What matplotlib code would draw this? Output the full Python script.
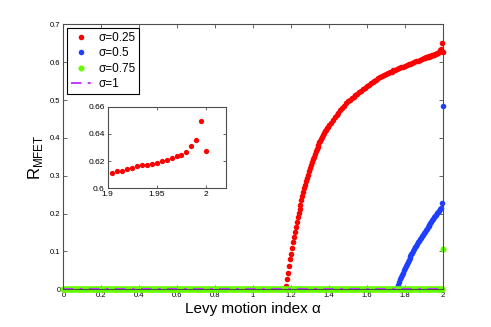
import numpy as np
import matplotlib
matplotlib.use("Agg")
import matplotlib.pyplot as plt

plt.rcParams['font.family'] = ['Liberation Sans', 'DejaVu Sans']
plt.rcParams['mathtext.fontset'] = 'custom'
plt.rcParams['mathtext.rm'] = 'Liberation Sans'

# sigma = 0.25 (red): steep start, then smooth rise
alpha_red_steep = [1.175, 1.18, 1.185, 1.19, 1.195, 1.20, 1.205, 1.21, 1.215, 1.22,
                   1.225, 1.23, 1.235, 1.24, 1.245, 1.25, 1.255, 1.26, 1.265, 1.27,
                   1.275, 1.28, 1.285, 1.29, 1.295, 1.30, 1.305, 1.31, 1.315, 1.32,
                   1.325, 1.33]
r_red_steep = [0.008, 0.028, 0.044, 0.061, 0.079, 0.093, 0.108, 0.126, 0.139, 0.152,
               0.165, 0.178, 0.191, 0.202, 0.212, 0.222, 0.235, 0.246, 0.258, 0.267,
               0.276, 0.285, 0.294, 0.303, 0.312, 0.320, 0.328, 0.336, 0.343, 0.350,
               0.357, 0.364]
alpha_red_mid = [1.335, 1.34, 1.345, 1.35, 1.355, 1.36, 1.365, 1.37, 1.375, 1.38,
                 1.385, 1.39, 1.395, 1.40, 1.41, 1.42, 1.43,
                 1.44, 1.45, 1.46, 1.47, 1.48, 1.49, 1.50, 1.51, 1.52, 1.53,
                 1.54, 1.55, 1.56, 1.57, 1.58, 1.59, 1.60, 1.61, 1.62, 1.63,
                 1.64, 1.65, 1.66, 1.67, 1.68, 1.69, 1.70, 1.71, 1.72, 1.73,
                 1.74, 1.75, 1.76, 1.77, 1.78, 1.79, 1.80, 1.81, 1.82, 1.83,
                 1.84, 1.85, 1.86, 1.87, 1.88, 1.89, 1.90]
r_red_mid = [0.370, 0.376, 0.382, 0.388, 0.393, 0.398, 0.403, 0.408, 0.412, 0.417,
             0.421, 0.425, 0.429, 0.433, 0.440, 0.447, 0.454,
             0.460, 0.467, 0.473, 0.479, 0.485, 0.491, 0.497, 0.501, 0.505, 0.509,
             0.513, 0.517, 0.521, 0.525, 0.529, 0.532, 0.536, 0.540, 0.544, 0.548,
             0.551, 0.554, 0.557, 0.560, 0.563, 0.566, 0.569, 0.571, 0.573, 0.575,
             0.578, 0.580, 0.582, 0.584, 0.586, 0.588, 0.590, 0.592, 0.594, 0.596,
             0.598, 0.600, 0.602, 0.604, 0.606, 0.608, 0.610]
# tail, also shown in the inset
alpha_red_tail = [1.905, 1.91, 1.915, 1.92, 1.925, 1.93, 1.935, 1.94, 1.945, 1.95,
                  1.955, 1.96, 1.965, 1.97, 1.975, 1.98, 1.985, 1.99, 1.995, 2.0]
r_red_tail = [0.6116, 0.6126, 0.6128, 0.6141, 0.6148, 0.6163, 0.6170, 0.6175, 0.6178, 0.6188,
              0.6198, 0.6210, 0.6225, 0.6237, 0.6247, 0.6269, 0.6309, 0.6358, 0.6494, 0.6274]

# sigma = 0.5 (blue)
alpha_blue = [1.76, 1.765, 1.77, 1.775, 1.78, 1.785, 1.79, 1.795, 1.80, 1.805,
              1.81, 1.815, 1.82, 1.825, 1.83, 1.835, 1.84, 1.845, 1.85, 1.855,
              1.86, 1.865, 1.87, 1.875, 1.88, 1.885, 1.89, 1.895, 1.90, 1.905,
              1.91, 1.915, 1.92, 1.925, 1.93, 1.935, 1.94, 1.945, 1.95, 1.955,
              1.96, 1.965, 1.97, 1.975, 1.98, 1.985, 1.99, 1.995, 2.0]
r_blue = [0.003, 0.012, 0.020, 0.027, 0.033, 0.039, 0.044, 0.050, 0.055, 0.061,
          0.066, 0.072, 0.077, 0.082, 0.087, 0.092, 0.097, 0.102, 0.106, 0.111,
          0.115, 0.120, 0.124, 0.128, 0.132, 0.136, 0.140, 0.144, 0.148, 0.152,
          0.156, 0.160, 0.164, 0.167, 0.171, 0.175, 0.179, 0.182, 0.186, 0.190,
          0.194, 0.197, 0.201, 0.204, 0.208, 0.212, 0.216, 0.228, 0.483]

# sigma = 0.75 (green): zero everywhere except the end point
alpha_green_end = [2.0]
r_green_end = [0.106]

# sigma = 1: zero line
alpha_line = [0.0, 2.0]
r_line = [0.0, 0.0]

alpha_grid = np.arange(0.0, 2.0, 0.005)

red = '#ff0000'
blue = '#1f3fff'
green = '#66ff00'
purple = '#c040ff'

fig = plt.figure(figsize=(4.91, 3.27), dpi=100)
ax = fig.add_axes([0.129, 0.1153, 0.7727, 0.8104])

alpha_red = alpha_red_steep + alpha_red_mid + alpha_red_tail
r_red = r_red_steep + r_red_mid + r_red_tail

ax.plot(alpha_red, r_red, 'o', color=red, ms=4.0, mec='none', label='σ=0.25', clip_on=False)
ax.plot(alpha_blue, r_blue, 'o', color=blue, ms=4.0, mec='none', label='σ=0.5', clip_on=False)
ax.plot(list(alpha_grid) + alpha_green_end, list(np.zeros_like(alpha_grid)) + r_green_end,
        'o', color=green, ms=4.4, mec='none', label='σ=0.75', clip_on=False)
ax.plot(alpha_line, r_line, '-.', color=purple, lw=1.5, dashes=(5, 3, 1.5, 3), label='σ=1',
        clip_on=False)

ax.set_xlim(0, 2)
ax.set_ylim(0, 0.7)
ax.set_xticks([0, 0.2, 0.4, 0.6, 0.8, 1, 1.2, 1.4, 1.6, 1.8, 2])
ax.set_xticklabels(['0', '0.2', '0.4', '0.6', '0.8', '1', '1.2', '1.4', '1.6', '1.8', '2'])
ax.set_yticks([0, 0.1, 0.2, 0.3, 0.4, 0.5, 0.6, 0.7])
ax.set_yticklabels(['0', '0.1', '0.2', '0.3', '0.4', '0.5', '0.6', '0.7'])
ax.tick_params(direction='in', top=True, right=True, length=3, width=0.6,
               labelsize=5.5, pad=2, color='0.3')
for s in ax.spines.values():
    s.set_color('0.3')
    s.set_linewidth(0.8)

ax.set_xlabel('Levy motion index α', fontsize=11, labelpad=2)
ax.set_ylabel(r'R$_{\mathregular{MFET}}$', fontsize=12, labelpad=4)

leg = ax.legend(loc='upper left', bbox_to_anchor=(0.0105, 0.985), borderaxespad=0,
                fontsize=8.5, labelspacing=0.3, handlelength=1.8, handletextpad=0.5,
                borderpad=0.3, fancybox=False, framealpha=1, edgecolor='black')
leg.get_frame().set_linewidth(0.8)

# inset
axin = fig.add_axes([0.219, 0.424, 0.241, 0.2496])
axin.plot(alpha_red_tail, r_red_tail, 'o', color=red, ms=3.8, mec='none')
axin.set_xlim(1.9, 2.02)
axin.set_ylim(0.6, 0.66)
axin.set_xticks([1.9, 1.95, 2])
axin.set_xticklabels(['1.9', '1.95', '2'])
axin.set_yticks([0.6, 0.62, 0.64, 0.66])
axin.set_yticklabels(['0.6', '0.62', '0.64', '0.66'])
axin.tick_params(direction='in', top=True, right=True, length=2.5, width=0.6,
                 labelsize=6, pad=2, color='0.3')
for s in axin.spines.values():
    s.set_color('0.3')
    s.set_linewidth(0.8)

fig.savefig('out.png', dpi=100)
